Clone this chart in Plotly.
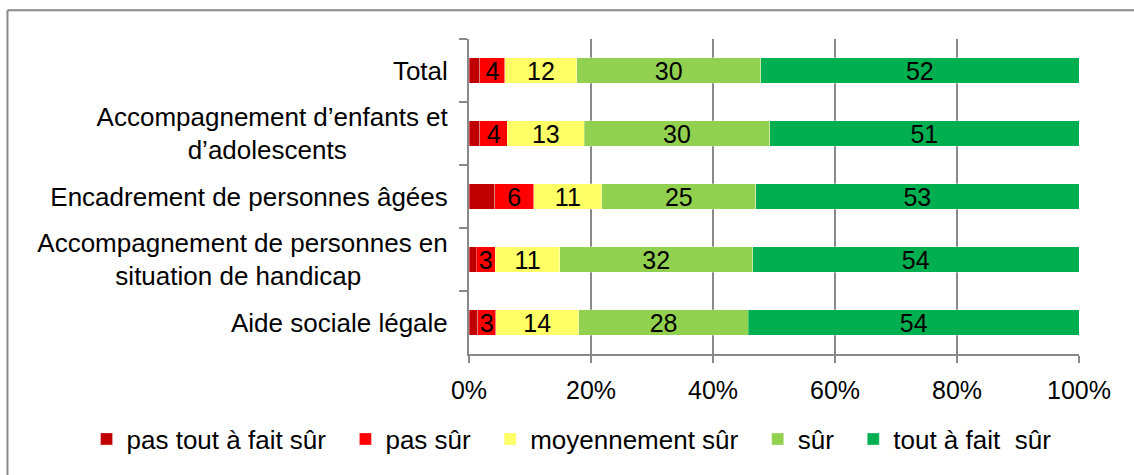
import plotly.graph_objects as go

NB = "\u00a0"
categories = [
    "Total",
    "Accompagnement d’enfants et<br>d’adolescents" + NB * 14,
    "Encadrement de personnes âgées",
    "Accompagnement de personnes en<br>situation de handicap" + NB * 12,
    "Aide sociale légale",
]
series_names = ["pas tout à fait sûr", "pas sûr", "moyennement sûr", "sûr", "tout à fait  sûr"]
pas_tout_a_fait_sur = [1.8, 1.8, 4.2, 1.2, 1.4]
pas_sur = [4.1, 4.5, 6.4, 3.1, 3.0]
moyennement_sur = [11.8, 12.6, 11.2, 10.6, 13.6]
sur = [30.1, 30.4, 25.2, 31.6, 27.8]
tout_a_fait_sur = [52.2, 50.7, 53.0, 53.5, 54.2]
colors = ["#C00000", "#FF0000", "#FFFF66", "#92D050", "#00B050"]
show_labels = [False, True, True, True, True]
x_ticks = [0, 20, 40, 60, 80, 100]

FONT = "Liberation Sans, Arial, sans-serif"
GRAY = "#898989"

fig = go.Figure()
all_vals = [pas_tout_a_fait_sur, pas_sur, moyennement_sur, sur, tout_a_fait_sur]
for name, vals, col, lab in zip(series_names, all_vals, colors, show_labels):
    legend_name = name if name == series_names[-1] else name + NB * 2
    fig.add_trace(go.Bar(
        y=categories, x=vals, name=legend_name, orientation="h",
        marker=dict(color=col, line=dict(color="rgba(255,255,255,0.6)", width=0.5)),
        text=[f"{round(v)}" for v in vals] if lab else None,
        textposition="inside" if lab else "none",
        insidetextanchor="middle",
        textangle=0,
        constraintext="none",
        textfont=dict(family=FONT, size=25, color="black"),
        hoverinfo="x+name",
    ))

fig.update_layout(
    barmode="stack",
    bargap=0.6,
    width=1134, height=475,
    margin=dict(l=469, r=55, t=39, b=118),
    paper_bgcolor="white", plot_bgcolor="white",
    font=dict(family=FONT, size=26, color="black"),
    legend=dict(
        orientation="h", x=-0.627, xanchor="left", y=-0.27, yanchor="middle",
        font=dict(family=FONT, size=26, color="black"),
        traceorder="normal",
    ),
    showlegend=True,
    shapes=[
        dict(type="line", xref="paper", yref="paper", x0=-0.7566, x1=2.0, y0=1.0912, y1=1.0912,
             line=dict(color=GRAY, width=2)),
        dict(type="line", xref="paper", yref="paper", x0=-0.7566, x1=-0.7566, y0=1.0912, y1=-1.0,
             line=dict(color=GRAY, width=2)),
    ],
)
fig.update_xaxes(
    range=[0, 100], tickvals=x_ticks, ticktext=[f"{t}%" for t in x_ticks],
    showgrid=True, gridcolor=GRAY, gridwidth=1.5,
    showline=True, linecolor=GRAY, linewidth=2,
    ticks="outside", ticklen=7, tickcolor=GRAY, tickwidth=2,
    ticklabelstandoff=6,
    tickfont=dict(family=FONT, size=25, color="black"),
    zeroline=False, fixedrange=True,
)
fig.update_yaxes(
    autorange="reversed", type="category",
    showline=True, linecolor=GRAY, linewidth=2,
    ticks="outside", tickson="boundaries", ticklen=8, tickcolor=GRAY, tickwidth=2,
    ticklabelstandoff=14,
    tickfont=dict(family=FONT, size=26, color="black"),
    showgrid=False, fixedrange=True,
)

fig.write_html(
    "out.html",
    config={"displayModeBar": False},
    post_script="document.body.style.margin='0';document.body.style.overflow='hidden';",
)
